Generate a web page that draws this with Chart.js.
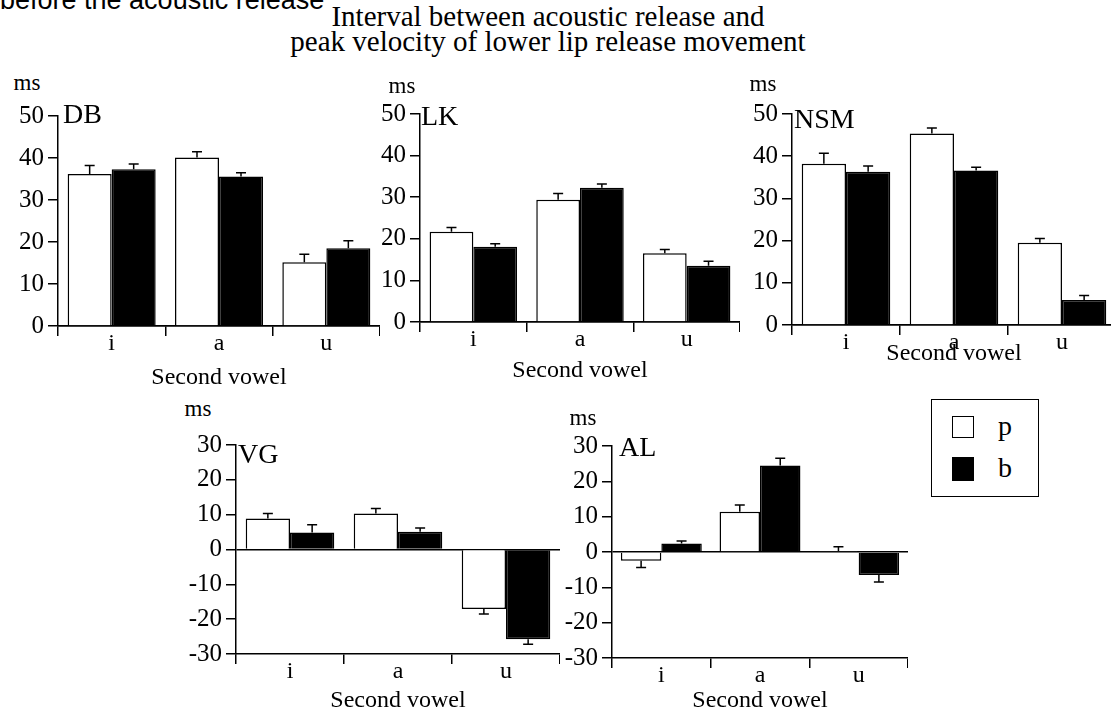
<!DOCTYPE html>
<html>
<head>
<meta charset="utf-8">
<script src="https://cdn.jsdelivr.net/npm/chart.js@4.4.1/dist/chart.umd.min.js"></script>
<style>
html, body { margin: 0; padding: 0; background: #fff; overflow: hidden; width: 1111px; height: 715px; }
body { position: relative; font-family: "Liberation Serif", "Times New Roman", serif; color: #000; }
.txt { position: absolute; line-height: 1; white-space: nowrap; }
.panel { position: absolute; }
.legend { position: absolute; left: 931px; top: 399px; width: 106px; height: 96px; border: 1.5px solid #000; }
.sw { position: absolute; left: 20px; width: 20px; height: 20px; border: 1.5px solid #000; }
</style>
</head>
<body>
<div class="txt" style="left:0;top:-13px;font-family:'Liberation Sans',Arial,sans-serif;font-size:27px;">before the acoustic release</div>
<div class="txt" style="left:548px;top:4px;transform:translateX(-50%);font-size:29px;text-align:center;line-height:25px;">Interval between acoustic release and<br>peak velocity of lower lip release movement</div>

<div class="legend">
  <div class="sw" style="top:16px;background:#fff;"></div>
  <div class="sw" style="top:57px;background:#000;height:22px;"></div>
  <div class="txt" style="left:66px;top:12px;font-size:28px;">p</div>
  <div class="txt" style="left:66px;top:54px;font-size:28px;">b</div>
</div>

<script>
// Datos (ms), categorías = segunda vocal
const vowels = ['i', 'a', 'u'];

const dbP = [36.2, 40.1, 15.2];
const dbPErr = [2.0, 1.4, 1.9];
const dbB = [37.3, 35.6, 18.5];
const dbBErr = [1.3, 0.9, 1.8];

const lkP = [21.7, 29.4, 16.5];
const lkPErr = [1.0, 1.5, 0.9];
const lkB = [18.1, 32.3, 13.5];
const lkBErr = [0.7, 0.9, 1.1];

const nsmP = [38.2, 45.4, 19.5];
const nsmPErr = [2.5, 1.3, 1.0];
const nsmB = [36.3, 36.6, 5.9];
const nsmBErr = [1.4, 0.8, 1.1];

const vgP = [8.9, 10.3, -17.1];
const vgPErr = [1.4, 1.5, 1.4];
const vgB = [4.9, 5.1, -25.8];
const vgBErr = [2.2, 1.1, 1.4];

const alP = [-2.5, 11.4, 0.3];
const alPErr = [1.9, 1.9, 1.2];
const alB = [2.4, 24.5, -6.5];
const alBErr = [0.7, 2.0, 2.0];

// Plugin para dibujar las barras de error (solo hacia fuera)
const errorBars = {
    id: 'errorBars',
    afterDatasetsDraw(chart) {
        const ctx = chart.ctx;
        const y = chart.scales.y;
        chart.data.datasets.forEach((ds, di) => {
            const meta = chart.getDatasetMeta(di);
            meta.data.forEach((bar, i) => {
                const v = ds.data[i];
                const end = v >= 0 ? v + ds.errors[i] : v - ds.errors[i];
                const y0 = y.getPixelForValue(v);
                const y1 = y.getPixelForValue(end);
                ctx.save();
                ctx.strokeStyle = '#000';
                ctx.lineWidth = 1.5;
                ctx.beginPath();
                ctx.moveTo(bar.x, y0);
                ctx.lineTo(bar.x, y1);
                ctx.moveTo(bar.x - 5, y1);
                ctx.lineTo(bar.x + 5, y1);
                ctx.stroke();
                ctx.restore();
            });
        });
    }
};

const serif = 'Liberation Serif';

// area = [izquierda, derecha, arriba, abajo] del área del gráfico en la página
const panels = [
    { name: 'DB', p: dbP, pErr: dbPErr, b: dbB, bErr: dbBErr, min: 0, max: 50, area: [58, 380, 112, 326], titleY: 378, ms: [27, 71], lab: [63, 100] },
    { name: 'LK', p: lkP, pErr: lkPErr, b: lkB, bErr: lkBErr, min: 0, max: 50, area: [420, 740, 110, 322], titleY: 371, ms: [402, 74], lab: [421, 102] },
    { name: 'NSM', p: nsmP, pErr: nsmPErr, b: nsmB, bErr: nsmBErr, min: 0, max: 50, area: [792, 1116, 110, 325], titleY: 354, ms: [763, 72], lab: [794, 105] },
    { name: 'VG', p: vgP, pErr: vgPErr, b: vgB, bErr: vgBErr, min: -30, max: 30, area: [236, 560, 441, 654], titleY: 701, ms: [198, 397], lab: [238, 440] },
    { name: 'AL', p: alP, pErr: alPErr, b: alB, bErr: alBErr, min: -30, max: 30, area: [612, 908, 442, 658], titleY: 701, ms: [583, 406], lab: [619, 433] }
];

function makePanel(cfg) {
    const [L, R, T, B] = cfg.area;
    const yW = 50;
    const padTop = 15;
    const xH = Math.round(cfg.titleY + 14.4 - B);

    const box = document.createElement('div');
    box.className = 'panel';
    box.style.left = (L - yW) + 'px';
    box.style.top = (T - padTop) + 'px';
    box.style.width = (R - L + yW) + 'px';
    box.style.height = (B - T + padTop + xH) + 'px';
    const canvas = document.createElement('canvas');
    box.appendChild(canvas);
    document.body.appendChild(box);

    // etiquetas "ms" y nombre del hablante
    const ms = document.createElement('div');
    ms.className = 'txt';
    ms.style.cssText = `left:${cfg.ms[0]}px;top:${cfg.ms[1]}px;font-size:23px;transform:translateX(-50%);`;
    ms.textContent = 'ms';
    document.body.appendChild(ms);

    const lab = document.createElement('div');
    lab.className = 'txt';
    lab.style.cssText = `left:${cfg.lab[0]}px;top:${cfg.lab[1]}px;font-size:28px;`;
    lab.textContent = cfg.name;
    document.body.appendChild(lab);

    new Chart(canvas, {
        type: 'bar',
        data: {
            labels: vowels,
            datasets: [
                { label: 'p', data: cfg.p, errors: cfg.pErr, backgroundColor: '#fff', borderColor: '#000', borderWidth: 1.5 },
                { label: 'b', data: cfg.b, errors: cfg.bErr, backgroundColor: '#000', borderColor: '#000', borderWidth: 1.5 }
            ]
        },
        options: {
            responsive: true,
            maintainAspectRatio: false,
            animation: false,
            layout: { padding: { top: padTop, left: 0, right: 0, bottom: 0 } },
            datasets: { bar: { categoryPercentage: 0.82, barPercentage: 1 } },
            plugins: { legend: { display: false }, tooltip: { enabled: false } },
            scales: {
                x: {
                    offset: true,
                    grid: { offset: true, drawOnChartArea: false, color: '#000', lineWidth: 1.5, tickLength: 10 },
                    border: { color: '#000', width: 1.5 },
                    ticks: { color: '#000', font: { family: serif, size: 24 }, padding: -7 },
                    title: { display: true, text: 'Second vowel', color: '#000', font: { family: serif, size: 24 }, padding: { top: 0, bottom: 0 } },
                    afterFit: s => { s.height = xH; }
                },
                y: {
                    min: cfg.min,
                    max: cfg.max,
                    ticks: { stepSize: 10, color: '#000', font: { family: serif, size: 25 }, padding: 4 },
                    grid: {
                        color: c => (c.tick && c.tick.value === 0) ? '#000' : 'rgba(0,0,0,0)',
                        tickColor: '#000',
                        lineWidth: 1.5,
                        tickLength: 10
                    },
                    border: { color: '#000', width: 1.5 },
                    afterFit: s => { s.width = yW; }
                }
            }
        },
        plugins: [errorBars]
    });
}

panels.forEach(makePanel);
</script>
</body>
</html>
